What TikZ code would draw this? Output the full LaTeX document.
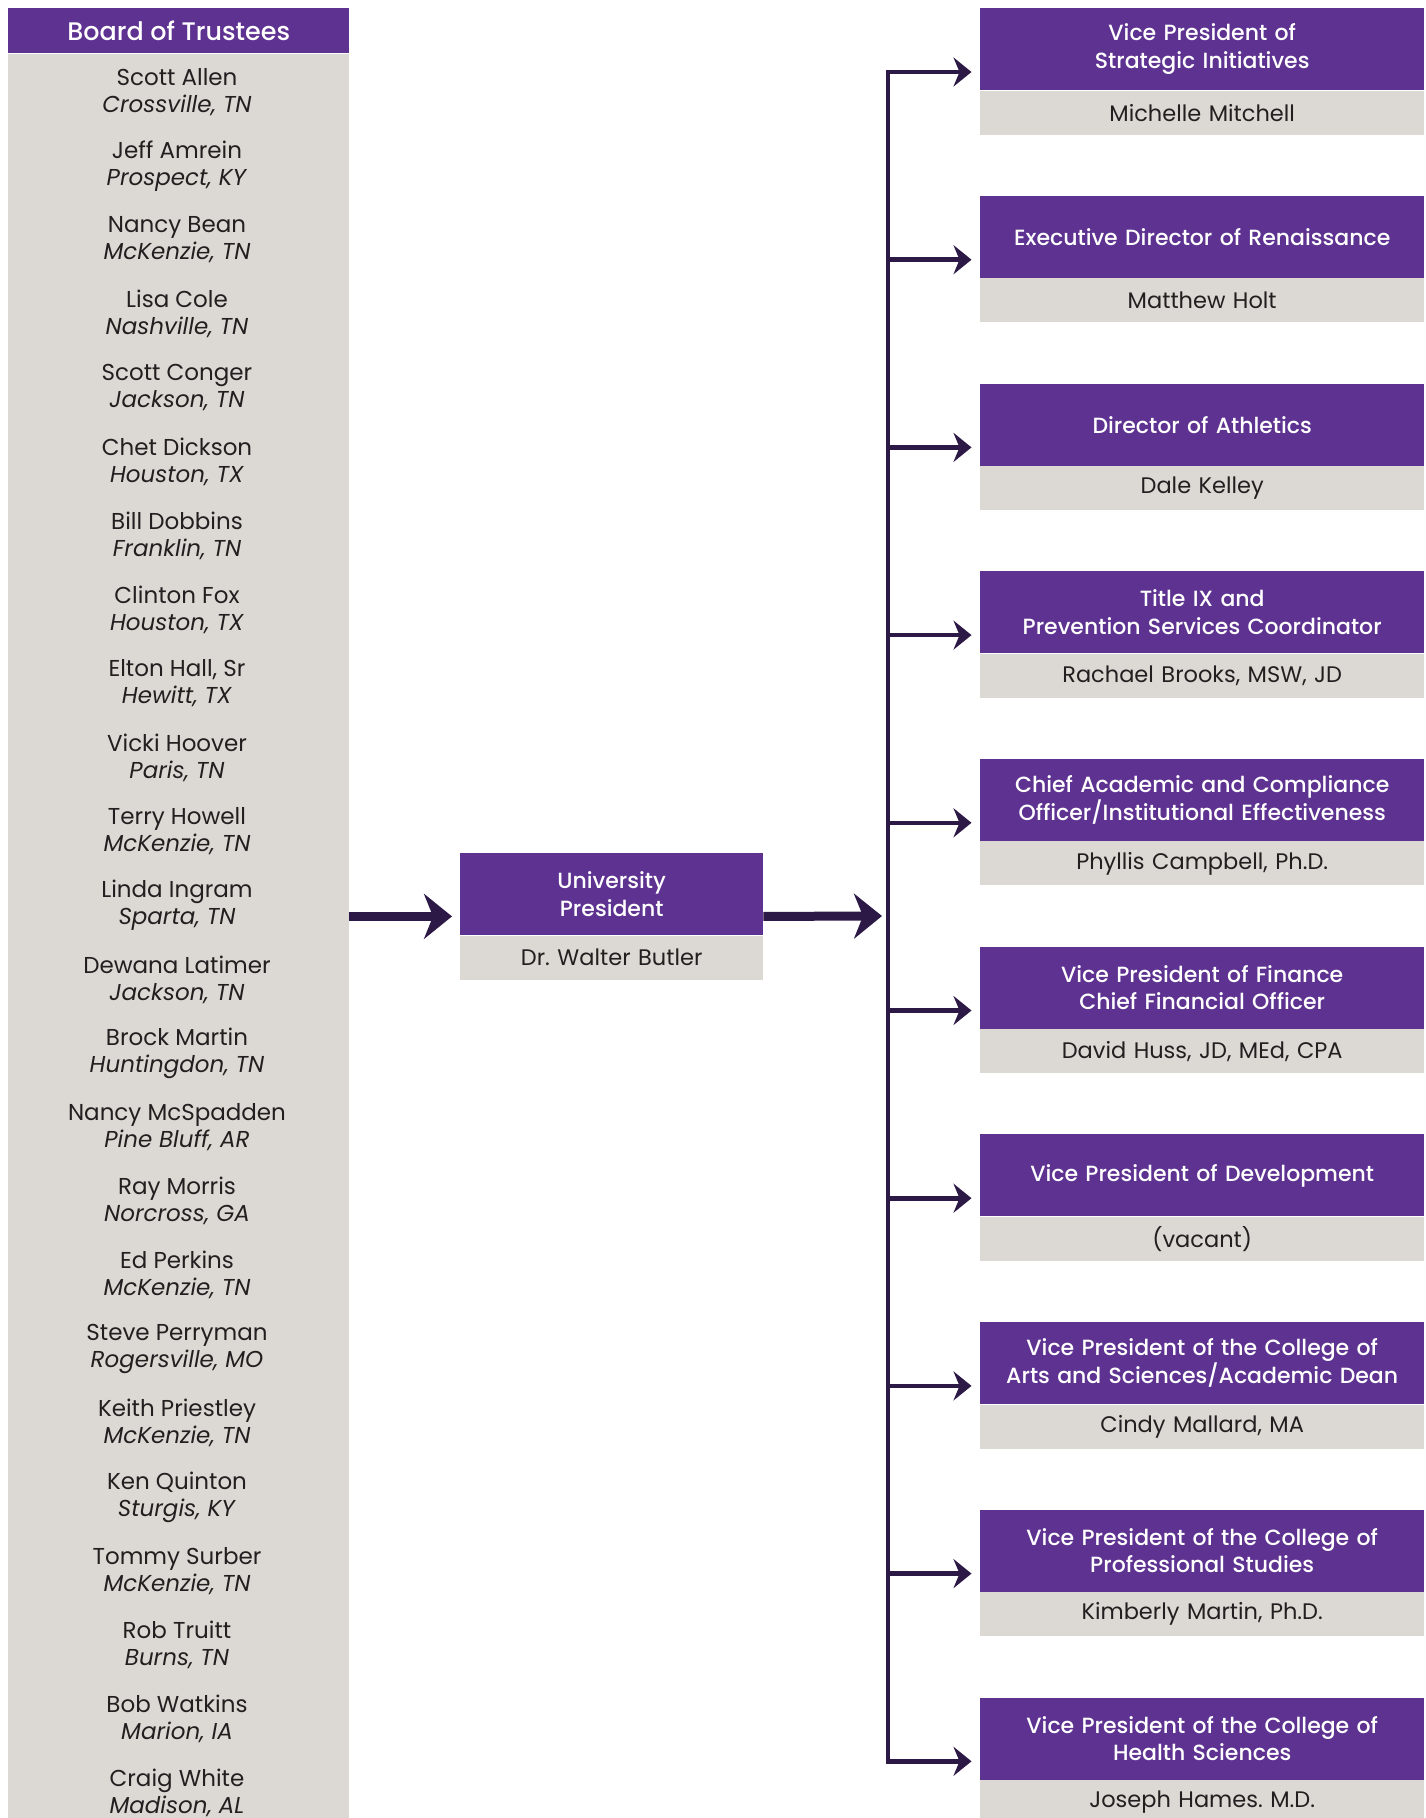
\documentclass[tikz,border=0pt]{standalone}
\usepackage{fontspec}
\setmainfont{Poppins}
\newfontfamily\medium{Poppins Medium}
\usetikzlibrary{arrows.meta,calc}
\definecolor{purple}{RGB}{94,50,145}
\definecolor{stone}{RGB}{220,216,211}
\definecolor{navy}{RGB}{45,25,70}
\definecolor{ink}{RGB}{35,31,32}

\begin{document}
\begin{tikzpicture}[x=1pt, y=-1pt,
	title/.style={anchor=north west, fill=purple, text=white, inner sep=0pt, align=center,
	  minimum width=444pt, minimum height=82pt, text width=440pt, font=\medium\fontsize{22}{27.5}\selectfont},
	holder/.style={anchor=north west, fill=stone, text=ink, inner sep=0pt, align=center,
	  minimum width=444pt, minimum height=44pt, text width=440pt, font=\fontsize{22.5}{27}\selectfont},
	member/.style={text=ink, align=center, inner sep=0pt, font=\fontsize{23}{27}\selectfont},
	branch/.style={navy, line width=4.6pt, -{Stealth[length=18pt, width=29pt, inset=6pt]}, shorten >=8.5pt},
	main arrow/.style={navy, line width=9pt, -{Stealth[length=28pt, width=45pt, inset=9pt]}}]
	\useasboundingbox (0,0) rectangle (1426,1818);
	% board column
	\node[anchor=north west, fill=purple, text=white, inner sep=0pt, minimum width=341pt, minimum height=45pt,
	  font=\medium\fontsize{25.4}{28}\selectfont] (board) at (8,8) {Board of Trustees};
	\node[anchor=north west, fill=stone, inner sep=0pt, minimum width=341pt, minimum height=1765pt] (boardlist) at (board.south west) {};
	\foreach \who/\town [count=\i from 0] in {Scott Allen/{Crossville, TN}, Jeff Amrein/{Prospect, KY},
	  Nancy Bean/{McKenzie, TN}, Lisa Cole/{Nashville, TN}, Scott Conger/{Jackson, TN},
	  Chet Dickson/{Houston, TX}, Bill Dobbins/{Franklin, TN}, Clinton Fox/{Houston, TX},
	  {Elton Hall, Sr}/{Hewitt, TX}, Vicki Hoover/{Paris, TN}, Terry Howell/{McKenzie, TN},
	  Linda Ingram/{Sparta, TN}, Dewana Latimer/{Jackson, TN}, Brock Martin/{Huntingdon, TN},
	  Nancy McSpadden/{Pine Bluff, AR}, Ray Morris/{Norcross, GA}, Ed Perkins/{McKenzie, TN},
	  Steve Perryman/{Rogersville, MO}, Keith Priestley/{McKenzie, TN}, Ken Quinton/{Sturgis, KY},
	  Tommy Surber/{McKenzie, TN}, Rob Truitt/{Burns, TN}, Bob Watkins/{Marion, IA},
	  Craig White/{Madison, AL}}{
	  \node[member] (m\i) at (177, {92+73.95*\i}) {\who\\\textit{\town}};
	}
	% president
	\node[title, minimum width=303pt, text width=300pt] (pres) at (460,853) {University\\President};
	\node[holder, minimum width=303pt, text width=300pt] (presname) at (pres.south west) {Dr.\ Walter Butler};
	\coordinate (pres in) at ($(pres.north west)!0.5!(presname.south west)$);
	\coordinate (pres out) at ($(pres.north east)!0.5!(presname.south east)$);
	\coordinate (trunk) at (888,916);
	\draw[main arrow, shorten >=8pt] (boardlist.east |- pres in) -- (pres in);
	\draw[main arrow, shorten >=6pt] (pres out) -- (trunk);
	% offices
	\foreach \job/\who [count=\i from 0] in {{Vice President of\\Strategic Initiatives}/Michelle Mitchell,
	  Executive Director of Renaissance/Matthew Holt,
	  Director of Athletics/Dale Kelley,
	  {Title IX and\\Prevention Services Coordinator}/{Rachael Brooks, MSW, JD},
	  {Chief Academic and Compliance\\Officer/Institutional Effectiveness}/{Phyllis Campbell, Ph.D.},
	  {Vice President of Finance\\Chief Financial Officer}/{David Huss, JD, MEd, CPA},
	  Vice President of Development/(vacant),
	  {Vice President of the College of\\Arts and Sciences/Academic Dean}/{Cindy Mallard, MA},
	  {Vice President of the College of\\Professional Studies}/{Kimberly Martin, Ph.D.},
	  {Vice President of the College of\\Health Sciences}/{Joseph Hames.\ M.D.}}{
	  \node[title] (t\i) at (980, {8+187.7*\i}) {\job};
	  \node[holder] (n\i) at (t\i.south west) {\who};
	  \coordinate (b\i) at (888, {72+187.7*\i});
	  \draw[branch] (b\i) -- (t\i.west |- b\i);
	}
	\draw[navy, line width=4.6pt, line cap=rect] (b0) -- (b9);
\end{tikzpicture}
\end{document}
